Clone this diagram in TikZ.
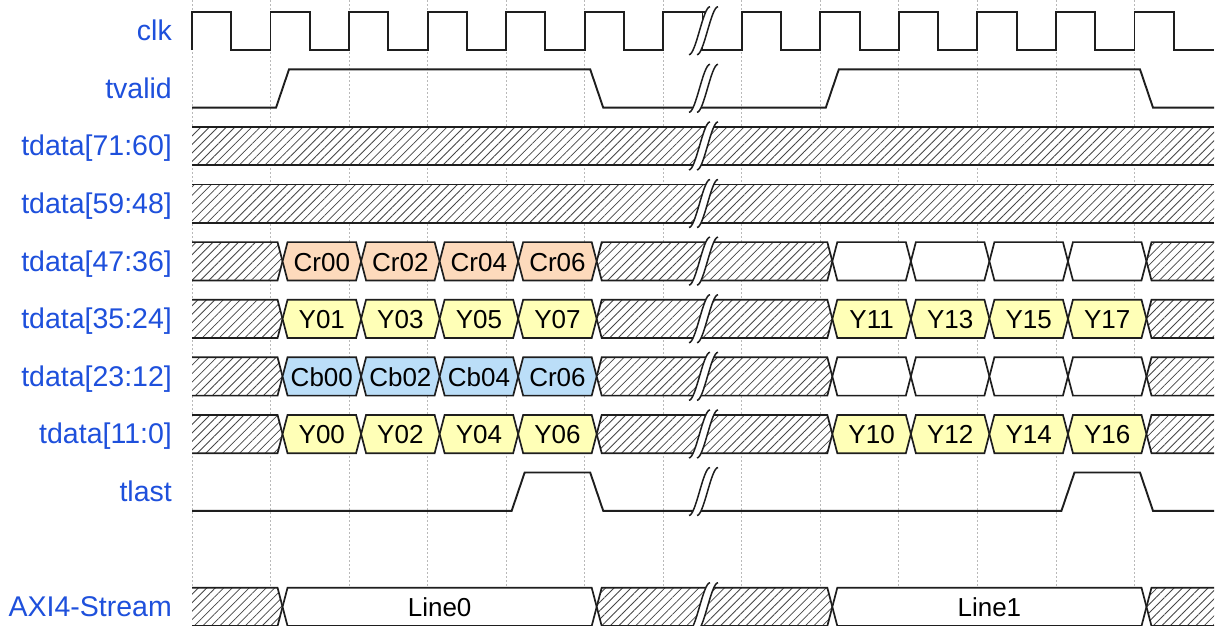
\documentclass[tikz,border=0pt]{standalone}
\usepackage{fontspec}
\setmainfont{Liberation Sans}
\usetikzlibrary{patterns.meta}
\definecolor{lblue}{RGB}{30,80,220}
\definecolor{linec}{RGB}{30,30,30}
\definecolor{gridc}{RGB}{185,185,185}
\definecolor{hatchc}{RGB}{70,70,70}
\definecolor{crcol}{RGB}{253,218,188}
\definecolor{ycol}{RGB}{255,255,183}
\definecolor{cbcol}{RGB}{187,222,248}
% transition x for half-period index
\newcommand\tr[1]{(192+39.27*(#1)+12)}
\newcommand\midx[2]{((\tr{#1}+\tr{#2})/2)}
\newcommand\bseg[4]{%
  \draw[bus,#4] ({\tr{#2}},{#1+19.15}) -- ({\tr{#2}+5},{#1}) -- ({\tr{#3}-5},{#1}) -- ({\tr{#3}},{#1+19.15}) -- ({\tr{#3}-5},{#1+38.3}) -- ({\tr{#2}+5},{#1+38.3}) -- cycle;}
\newcommand\bfirst[3]{%
  \path[#3] (192,{#1}) -- ({\tr{#2}-5},{#1}) -- ({\tr{#2}},{#1+19.15}) -- ({\tr{#2}-5},{#1+38.3}) -- (192,{#1+38.3}) -- cycle;
  \draw[bus] (192,{#1}) -- ({\tr{#2}-5},{#1}) -- ({\tr{#2}},{#1+19.15}) -- ({\tr{#2}-5},{#1+38.3}) -- (192,{#1+38.3});}
\newcommand\blast[3]{%
  \path[#3] (1214,{#1}) -- ({\tr{#2}+5},{#1}) -- ({\tr{#2}},{#1+19.15}) -- ({\tr{#2}+5},{#1+38.3}) -- (1214,{#1+38.3}) -- cycle;
  \draw[bus] (1214,{#1}) -- ({\tr{#2}+5},{#1}) -- ({\tr{#2}},{#1+19.15}) -- ({\tr{#2}+5},{#1+38.3}) -- (1214,{#1+38.3});}
\newcommand\brk[1]{% #1 = row top
  \fill[white] (689,{#1+43}) .. controls (696,{#1+43}) and (703,{#1-5}) .. (710,{#1-5}) -- (718,{#1-5}) .. controls (711,{#1-5}) and (704,{#1+43}) .. (697,{#1+43}) -- cycle;
  \draw[brkline] (689,{#1+43}) .. controls (696,{#1+43}) and (703,{#1-5}) .. (710,{#1-5});
  \draw[brkline] (697,{#1+43}) .. controls (704,{#1+43}) and (711,{#1-5}) .. (718,{#1-5});}
\begin{document}
\begin{tikzpicture}[x=1pt,y=-1pt,
  sig/.style={draw=linec,line width=1.9pt,line join=miter},
  bus/.style={draw=linec,line width=1.7pt,line join=miter},
  brkline/.style={draw=linec,line width=1.5pt},
  grid/.style={draw=gridc,line width=0.8pt,dash pattern=on 1.5pt off 2.5pt},
  hatch/.style={preaction={fill=white},pattern={Lines[angle=45,distance=6pt,line width=0.8pt]},pattern color=hatchc},
  crf/.style={fill=crcol}, yf/.style={fill=ycol}, cbf/.style={fill=cbcol}, wf/.style={fill=white},
  lbl/.style={anchor=base east,text=lblue,font=\fontsize{28.5}{32}\selectfont,inner sep=0pt},
  dtext/.style={anchor=base,text=black,font=\fontsize{26}{28}\selectfont,inner sep=0pt}]
\useasboundingbox (0,0) rectangle (1217,625);
\fill[white] (0,0) rectangle (1217,625);
% grid
\foreach \k in {0,...,12} \draw[grid] ({192+78.54*\k},0) -- ({192+78.54*\k},625);
% labels
\node[lbl] (lclk) at (172,40.7) {clk};
\node[lbl] (ltvalid) at (172,98.3) {tvalid};
\node[lbl] (ld7160) at (172,155.9) {tdata[71:60]};
\node[lbl] (ld5948) at (172,213.5) {tdata[59:48]};
\node[lbl] (ld4736) at (172,271.1) {tdata[47:36]};
\node[lbl] (ld3524) at (172,328.7) {tdata[35:24]};
\node[lbl] (ld2312) at (172,386.3) {tdata[23:12]};
\node[lbl] (ld110) at (172,443.9) {tdata[11:0]};
\node[lbl] (ltlast) at (172,501.5) {tlast};
\node[lbl] (laxi) at (172,616.7) {AXI4-Stream};
% clk
\draw[sig] (192,50) \foreach \k in {0,...,6} { -- ({192+78.54*\k},50) -- ({192+78.54*\k},11.7) -- ({192+78.54*\k+39.27},11.7) -- ({192+78.54*\k+39.27},50) } -- ({192+78.54*6+39.27},50);
\draw[sig] ({192+78.54*6},11.7) -- (708,11.7);
\draw[sig] (700,50) \foreach \k in {7,...,12} { -- ({192+78.54*\k},50) -- ({192+78.54*\k},11.7) -- ({192+78.54*\k+39.27},11.7) -- ({192+78.54*\k+39.27},50) } -- (1214,50);
% tvalid
\draw[sig] (192,107.6) -- ({\tr{2}-6.5},107.6) -- ({\tr{2}+6.5},69.3) -- ({\tr{10}-6.5},69.3) -- ({\tr{10}+6.5},107.6) -- ({\tr{16}-6.5},107.6) -- ({\tr{16}+6.5},69.3) -- ({\tr{24}-6.5},69.3) -- ({\tr{24}+6.5},107.6) -- (1214,107.6);
% tdata[71:60], [59:48]
\foreach \t in {126.9,184.5} {
  \path[hatch] (192,\t) rectangle (1214,{\t+38.3});
  \draw[bus] (192,\t) -- (1214,\t) (192,{\t+38.3}) -- (1214,{\t+38.3});
}
% tdata[47:36]
\bfirst{242.1}{2}{hatch}
\foreach \a/\s in {2/Cr00,4/Cr02,6/Cr04,8/Cr06} {
  \bseg{242.1}{\a}{\a+2}{crf}
  \node[dtext] (ra\a) at ({\midx{\a}{\a+2}},271) {\s};
}
\bseg{242.1}{10}{16}{hatch}
\foreach \a in {16,18,20,22} {\bseg{242.1}{\a}{\a+2}{wf}}
\blast{242.1}{24}{hatch}
% tdata[35:24]
\bfirst{299.7}{2}{hatch}
\foreach \a/\s in {2/Y01,4/Y03,6/Y05,8/Y07,16/Y11,18/Y13,20/Y15,22/Y17} {
  \bseg{299.7}{\a}{\a+2}{yf}
  \node[dtext] (rb\a) at ({\midx{\a}{\a+2}},328.6) {\s};
}
\bseg{299.7}{10}{16}{hatch}
\blast{299.7}{24}{hatch}
% tdata[23:12]
\bfirst{357.3}{2}{hatch}
\foreach \a/\s in {2/Cb00,4/Cb02,6/Cb04,8/Cr06} {
  \bseg{357.3}{\a}{\a+2}{cbf}
  \node[dtext] (rc\a) at ({\midx{\a}{\a+2}},386.2) {\s};
}
\bseg{357.3}{10}{16}{hatch}
\foreach \a in {16,18,20,22} {\bseg{357.3}{\a}{\a+2}{wf}}
\blast{357.3}{24}{hatch}
% tdata[11:0]
\bfirst{414.9}{2}{hatch}
\foreach \a/\s in {2/Y00,4/Y02,6/Y04,8/Y06,16/Y10,18/Y12,20/Y14,22/Y16} {
  \bseg{414.9}{\a}{\a+2}{yf}
  \node[dtext] (rd\a) at ({\midx{\a}{\a+2}},443.8) {\s};
}
\bseg{414.9}{10}{16}{hatch}
\blast{414.9}{24}{hatch}
% tlast
\draw[sig] (192,510.8) -- ({\tr{8}-6.5},510.8) -- ({\tr{8}+6.5},472.5) -- ({\tr{10}-6.5},472.5) -- ({\tr{10}+6.5},510.8) -- ({\tr{22}-6.5},510.8) -- ({\tr{22}+6.5},472.5) -- ({\tr{24}-6.5},472.5) -- ({\tr{24}+6.5},510.8) -- (1214,510.8);
% AXI4-Stream
\bfirst{587.7}{2}{hatch}
\bseg{587.7}{2}{10}{wf}
\node[dtext] (line0) at ({\midx{2}{10}},616.5) {Line0};
\bseg{587.7}{10}{16}{hatch}
\bseg{587.7}{16}{24}{wf}
\node[dtext] (line1) at ({\midx{16}{24}},616.5) {Line1};
\blast{587.7}{24}{hatch}
% breaks
\foreach \t in {11.7,69.3,126.9,184.5,242.1,299.7,357.3,414.9,472.5,587.7} {\brk{\t}}
\end{tikzpicture}
\end{document}
